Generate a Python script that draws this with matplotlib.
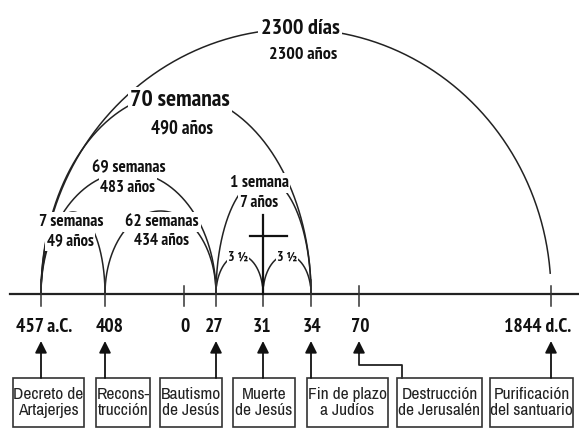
import numpy as np
import matplotlib
matplotlib.use("Agg")
import matplotlib.pyplot as plt
from matplotlib.patches import Rectangle
from matplotlib import font_manager

# ---------------- data ----------------
year_labels = ["457 a.C.", "408", "0", "27", "31", "34", "70", "1844 d.C."]
event_labels = ["Decreto de\nArtajerjes", "Recons-\ntrucción", "Bautismo\nde Jesús",
                "Muerte\nde Jesús", "Fin de plazo\na Judíos", "Destrucción\nde Jerusalén",
                "Purificación\ndel santuario"]
event_year_idx = [0, 1, 3, 4, 5, 6, 7]
period_titles = ["2300 días", "70 semanas", "69 semanas", "7 semanas", "62 semanas", "1 semana", "3 ½", "3 ½"]
period_subtitles = ["2300 años", "490 años", "483 años", "49 años", "434 años", "7 años", "", ""]
period_start_idx = [0, 0, 0, 0, 1, 3, 3, 4]
period_end_idx = [7, 5, 3, 1, 3, 5, 4, 5]

# ---------------- layout ----------------
year_x = [41, 105, 184, 216, 263, 311, 359, 551]
axis_y = 294
arc_height = [265, 201, 122, 82, 83, 116, 39, 39]
arc_end_y = [275, 294, 294, 294, 294, 294, 286, 286]
title_pos = [(300, 28), (180, 100), (129, 168), (71, 222), (162, 222), (259, 183), (238, 257), (287, 257)]
sub_pos = [(303, 55), (182, 129), (128, 188), (70, 241), (162, 241), (259, 203), None, None]
title_size = [16, 17, 12.5, 12.5, 12.5, 12.5, 10, 10]
sub_size = [13, 13.5, 12, 12, 12, 12, 10, 10]
box_x = [(13, 84), (96, 150), (160, 222), (233, 295), (307, 388), (397, 482), (490, 573)]
box_top, box_bot = 378, 427

ttf = font_manager.fontManager.ttflist
avail = {f.name for f in ttf}


def _w(f):
    w = f.weight
    if isinstance(w, str):
        w = font_manager.weight_dict.get(w, 400)
    return w


def has_bold(name):
    return any(f.name == name and 600 <= _w(f) <= 800 and f.style == "normal" for f in ttf)


cands = ["Liberation Sans Narrow", "Arial Narrow", "Archivo Narrow", "PT Sans Narrow",
         "Roboto Condensed", "Fira Sans Condensed", "IBM Plex Sans Condensed",
         "Encode Sans Condensed", "Asap Condensed", "Barlow Semi Condensed",
         "Sofia Sans Condensed", "Open Sans Condensed", "Cabin Condensed"]
narrow_reg = next((c for c in cands if c in avail), "DejaVu Sans")
narrow_bold = next((c for c in cands if c in avail and has_bold(c)), narrow_reg)

fig = plt.figure(figsize=(5.79, 4.29), dpi=100)
ax = fig.add_axes([0, 0, 1, 1])
ax.set_xlim(0, 579)
ax.set_ylim(429, 0)
ax.axis("off")

# axis line
ax.plot([10, 579], [axis_y, axis_y], color="#222222", lw=1.6, zorder=2)

# ticks
for i, x in enumerate(year_x):
    top = 286 if i in (2, 6, 7) else 280
    ax.plot([x, x], [top, 306], color="#333333", lw=1.1, zorder=2)

# arcs
for k in range(len(period_titles)):
    x0 = year_x[period_start_idx[k]]
    x1 = year_x[period_end_idx[k]]
    cx = (x0 + x1) / 2
    a = (x1 - x0) / 2
    b = arc_height[k]
    t = np.linspace(0, np.pi, 400)
    xs = cx - a * np.cos(t)
    ys = axis_y - b * np.sin(t)
    mask = ys <= arc_end_y[k] + 0.01
    if k == 0:
        mask = mask | (xs < cx)
        mask &= ~((xs > cx) & (ys > arc_end_y[k]))
    ax.plot(xs[mask], ys[mask], color="#222222", lw=1.1, zorder=1)

# cross
ax.plot([263, 263], [215, 294], color="#111111", lw=1.6, zorder=3)
ax.plot([250, 287], [236, 236], color="#111111", lw=1.6, zorder=3)

# period labels (white background hides the arc behind them)
for k in range(len(period_titles)):
    tx, ty = title_pos[k]
    ax.text(tx, ty, period_titles[k], ha="center", va="center", fontsize=title_size[k],
            fontweight="bold", family=narrow_bold, color="#111111", zorder=5,
            bbox=dict(boxstyle="square,pad=0.1", fc="white", ec="none"))
    if sub_pos[k] is not None:
        sx, sy = sub_pos[k]
        ax.text(sx, sy, period_subtitles[k], ha="center", va="center", fontsize=sub_size[k],
                fontweight="bold", family=narrow_bold, color="#111111", zorder=5,
                bbox=dict(boxstyle="square,pad=0.1", fc="white", ec="none"))

# year labels
year_label_x = [44, 110, 185, 214, 262, 312, 360, 538]
for i, lab in enumerate(year_labels):
    ax.text(year_label_x[i], 327, lab, ha="center", va="center", fontsize=14,
            fontweight="bold", family=narrow_bold, color="#111111")

# event boxes and arrows
for j, lab in enumerate(event_labels):
    bx0, bx1 = box_x[j]
    ax.add_patch(Rectangle((bx0, box_top), bx1 - bx0, box_bot - box_top, fill=False,
                           ec="#333333", lw=1.2, zorder=3))
    ax.text((bx0 + bx1) / 2, (box_top + box_bot) / 2, lab, ha="center", va="center",
            fontsize=12.5, family=narrow_reg, color="#222222", linespacing=1.1)
    x = year_x[event_year_idx[j]]
    if event_year_idx[j] == 6:
        ax.plot([402, 402, x, x], [box_top, 365, 365, 352], color="#222222", lw=1.3)
        start = (x, 353)
    else:
        start = (x, box_top)
    ax.annotate("", xy=(x, 341), xytext=start,
                arrowprops=dict(arrowstyle="-|>,head_length=0.7,head_width=0.35",
                                color="#111111", lw=1.3, shrinkA=0, shrinkB=0))

fig.savefig("out.png", dpi=100)
